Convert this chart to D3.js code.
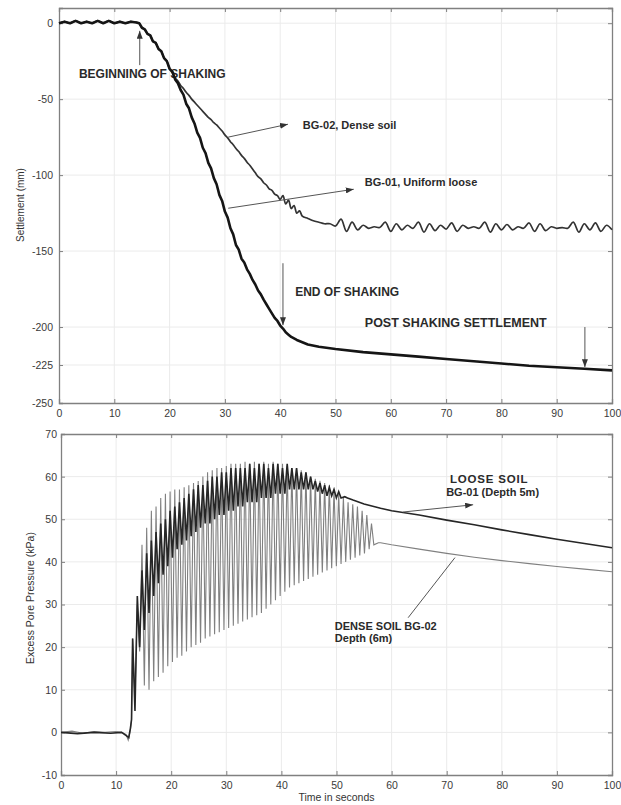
<!DOCTYPE html>
<html><head><meta charset="utf-8">
<script src="https://cdn.jsdelivr.net/npm/d3@7"></script>
<style>
body{margin:0;background:#fff;}
svg{display:block;}
text{font-family:"Liberation Sans",Arial,sans-serif;}
</style>
</head><body>
<svg id="c" width="621" height="805"></svg>
<script>
// ---------- DATA ----------
const xTicks = [0,10,20,30,40,50,60,70,80,90,100];
const topYTicks = [0,-50,-100,-150,-200,-225,-250];
const botYTicks = [-10,0,10,20,30,40,50,60,70];

// Settlement (mm) vs time (s)
const settleLoose = [[0,0],[1,1],[2,0],[3,1.5],[4,0],[5,1],[6,0],[7,1.5],[8,0],[9,1.5],[10,0],[11,1],[12,0],[13,1],[14,0.5],
 [14.5,0],[15,-3],[15.5,-4],[16,-7],[16.5,-8],[17,-12],[17.5,-13],[18,-17],[18.5,-18.5],[19,-23],[19.5,-25],[20,-30],[20.5,-32],
 [21,-37],[21.5,-39.5],[22,-44],[22.5,-47],[23,-53],[23.5,-56],[24,-62],[24.5,-66],[25,-72],[25.5,-75.5],[26,-82],[26.5,-85.5],
 [27,-92],[27.5,-95.5],[28,-102],[28.5,-106],[29,-113],[29.5,-117],[30,-124],[30.5,-128],[31,-135],[31.5,-139],[32,-146],[32.5,-149],
 [33,-155],[33.5,-157.5],[34,-162],[34.5,-165],[35,-169],[35.5,-172],[36,-176],[36.5,-178.5],[37,-182],[37.5,-185],[38,-188],[38.5,-191],
 [39,-194],[39.5,-196],[40,-199],[40.5,-201],[41,-203.5],[41.5,-205],[42,-206.5],[43,-208.5],[44,-210],[45,-211.5],[47,-213],[50,-214.5],
 [55,-216.5],[60,-218],[65,-219.5],[70,-221],[75,-222.5],[80,-224],[85,-225.5],[90,-226.5],[95,-227.5],[100,-228.5]];

const settleDense = [[0,0],[1,1],[2,0],[3,1.5],[4,0],[5,1],[6,0],[7,1.5],[8,0],[9,1.5],[10,0],[11,1],[12,0],[13,1],[14,0.5],
 [14.5,0],[15,-3],[15.5,-4],[16,-7],[16.5,-8],[17,-12],[17.5,-13],[18,-17],[18.5,-18.5],[19,-23],[19.5,-25],[20,-30],[20.5,-32],
 [21,-36],[21.5,-38],[22,-41],[22.5,-43],[23,-45.5],[23.5,-47.5],[24,-50],[24.5,-52],[25,-54],[25.5,-56],[26,-58],[26.5,-60],
 [27,-62],[27.5,-63.5],[28,-65.5],[28.5,-67],[29,-69],[29.5,-71],[30,-73.5],[30.5,-75.5],[31,-78],[31.5,-80],[32,-82.5],[32.5,-84.5],
 [33,-87],[33.5,-89],[34,-91.5],[34.5,-93.5],[35,-96],[35.5,-98.5],[36,-101],[36.5,-102.5],[37,-105],[37.5,-106.5],[38,-109],[38.5,-110],
 [39,-112.5],[39.5,-113.5],[40,-116],[40.5,-113.5],[41,-119],[41.5,-116.5],[42,-122],[42.5,-120],[43,-125],[43.5,-123.5],[44,-127],
 [45,-128.5],[46,-130],[47,-131],[48,-132],[49,-132],[50,-133.5],[51,-129],[52,-137],[53,-131],[54,-136],[55,-133],[56,-135],[57,-134],
 [58,-134.5],[59,-131],[60,-137],[61,-132],[62,-136],[63,-133],[64,-135],[65,-131],[66,-137.5],[67,-132],[68,-136.5],[69,-133],[70,-135.5],
 [71,-131.5],[72,-137],[73,-133],[74,-135],[75,-134],[76,-135],[77,-131],[78,-137.5],[79,-132],[80,-136],[81,-132.5],[82,-136],[83,-134],
 [84,-135],[85,-131.5],[86,-137],[87,-132],[88,-136.5],[89,-134],[90,-135],[91,-134.5],[92,-135],[93,-131],[94,-137.5],[95,-132],
 [96,-136],[97,-131.5],[98,-137],[99,-133],[100,-136]];

// Excess pore pressure (kPa): before shaking, cycle peaks/troughs during shaking, after shaking
const shakeStart = 13.0, halfCycle = 0.425;
const loosePre = [[0,0],[3,-0.3],[6,0],[9,-0.2],[11,0],[11.9,-0.8],[12.3,-1.2],[12.6,1],[12.8,3]];
const loosePeaks = [22,32,38,42,45,47,49,50,52,53,54,55,56,57,58,58,59,60,60,61,61,62,62,62,62,63,62,63,63,62,63,63,62,63,62,62,61,61,60,59,58.5,58,57.5,57,56.5];
const looseTroughs = [5,20,24,28,32,35,37,39,41,43,44,45,46,47,48,49,49,50,51,51,52,52,53,53,54,54,54,55,55,55,56,56,56,57,57,57,57,57,57,56.5,56,55.5,55.5,55,55];
const loosePost = [[51.5,55.3],[52,55],[53,54.5],[55,53.6],[58,52.6],[60,52],[65,51],[70,49.8],[75,48.7],[80,47.5],[85,46.4],[90,45.3],[95,44.3],[100,43.3]];

const densePre = [[0,0],[2,0.3],[4,-0.2],[6,0.2],[8,0],[10,0.2],[11,0],[11.8,-0.5],[12.2,-1.8],[12.6,0.5],[12.8,3]];
const densePeaks = [22,30,44,48,52,53,55,56,56.5,57, 57,57.5,58,58.5,59,60,61,61.5,62,62, 62.5,63,63,63,63.5,63,63.5,63,63.5,63, 63.5,63,63,62.5,62,62,61.5,61,60,59.5, 59,58.5,58,57,56,55,54,53.5,53,52, 51,49];
const denseTroughs = [8,19,11,10,12,13,14,15.5,16.5,17.5, 18,19,20,20.5,21,22,22.5,23,23.5,24, 24.5,25,25.5,26,26.5,27,27.5,28,29,30, 31,32,33,34,34.5,35,35.5,36,36.5,37, 37.5,38,38.5,39,39.5,40,40.5,41,41.5,42, 43,44];
const densePost = [[57.6,44.5],[58,44.5],[60,44],[65,43],[70,42],[75,41.1],[80,40.3],[85,39.6],[90,38.9],[95,38.3],[100,37.7]];

// ---------- BUILD ----------
function cycles(peaks, troughs){
  const pts = [];
  peaks.forEach((p,i)=>{
    const t = shakeStart + i*2*halfCycle;
    pts.push([t,p]); pts.push([t+halfCycle, troughs[i]]);
  });
  return pts;
}
const ppLoose = loosePre.concat(cycles(loosePeaks, looseTroughs), loosePost);
const ppDense = densePre.concat(cycles(densePeaks, denseTroughs), densePost);

const svg = d3.select("#c");
const defs = svg.append("defs");
defs.append("marker").attr("id","ah").attr("viewBox","0 0 8 6").attr("refX",8).attr("refY",3)
  .attr("markerWidth",8).attr("markerHeight",6).attr("markerUnits","userSpaceOnUse").attr("orient","auto")
  .append("path").attr("d","M0,0L8,3L0,6Z").attr("fill","#333");

const fmt = d => String(d);

function panel(cfg){
  const x = d3.scaleLinear().domain([0,100]).range([cfg.left,cfg.right]);
  const y = d3.scaleLinear().domain(cfg.yDomain).range([cfg.bottom,cfg.top]);
  const g = svg.append("g");
  g.append("g").selectAll("line").data(xTicks.slice(1,-1)).join("line")
    .attr("x1",d=>x(d)).attr("x2",d=>x(d)).attr("y1",cfg.top).attr("y2",cfg.bottom)
    .attr("stroke","#ebebeb").attr("stroke-width",1);
  g.append("g").selectAll("line").data(cfg.yTicks.filter(d=>d!==cfg.yDomain[0]&&d!==cfg.yDomain[1])).join("line")
    .attr("x1",cfg.left).attr("x2",cfg.right).attr("y1",d=>y(d)).attr("y2",d=>y(d))
    .attr("stroke","#ebebeb").attr("stroke-width",1);
  const ax = [
    g.append("g").attr("transform",`translate(0,${cfg.bottom})`).call(d3.axisBottom(x).tickValues(xTicks).tickFormat(fmt).tickSize(-4).tickPadding(6.5)),
    g.append("g").attr("transform",`translate(${cfg.left},0)`).call(d3.axisLeft(y).tickValues(cfg.yTicks).tickFormat(fmt).tickSize(-4).tickPadding(cfg.ypad)),
    g.append("g").attr("transform",`translate(0,${cfg.top})`).call(d3.axisTop(x).tickValues(xTicks).tickSize(-4).tickFormat("")),
    g.append("g").attr("transform",`translate(${cfg.right},0)`).call(d3.axisRight(y).tickValues(cfg.yTicks).tickSize(-4).tickFormat(""))
  ];
  ax.forEach(a=>{
    a.select(".domain").attr("stroke","#808080").attr("stroke-width",1.3);
    a.selectAll(".tick line").attr("stroke","#808080");
    a.selectAll(".tick text").attr("fill","#3a3a3a").style("font-size","10.5px").style("font-family","Liberation Sans, Arial, sans-serif");
  });
  return {x,y,g};
}

const P1 = panel({left:59,right:612,top:8,bottom:403,yDomain:[-250,10],yTicks:topYTicks,ypad:6});
const P2 = panel({left:61,right:612,top:434,bottom:775,yDomain:[-10,70],yTicks:botYTicks,ypad:4});

// annotations (data units)
const topNotes = [
  {text:"BEGINNING OF SHAKING", t:3.6, v:-36, size:12},
  {text:"BG-02, Dense soil", t:44.1, v:-69.6, size:11},
  {text:"BG-01, Uniform loose", t:55.3, v:-107, size:11},
  {text:"END OF SHAKING", t:42.7, v:-179.7, size:12},
  {text:"POST SHAKING SETTLEMENT", t:55.3, v:-200, size:12.5}
];
const topArrows = [
  {t1:14.6,v1:-27.6,t2:14.6,v2:-5,head:true},
  {t1:30.6,v1:-75,t2:41.4,v2:-66.5,head:true},
  {t1:30.6,v1:-121.8,t2:53.3,v2:-109.3,head:true},
  {t1:40.5,v1:-158,t2:40.5,v2:-198.8,head:true},
  {t1:95.1,v1:-200,t2:95.1,v2:-226.4,head:true}
];
const botNotes = [
  {text:"LOOSE SOIL", t:70.6, v:58.5, size:11.5, ls:0.8},
  {text:"BG-01 (Depth 5m)", t:69.9, v:55.5, size:11},
  {text:"DENSE SOIL BG-02", t:49.7, v:24.0, size:11},
  {text:"Depth (6m)", t:49.7, v:21.2, size:11}
];
const botArrows = [
  {t1:62.1,v1:51.7,t2:74.8,v2:53.4,head:true},
  {t1:71.5,v1:41,t2:63,v2:26.9,head:false}
];

function notes(P, list){
  P.g.append("g").selectAll("text").data(list).join("text")
    .attr("x",d=>P.x(d.t)).attr("y",d=>P.y(d.v))
    .attr("fill","#2a2a2a").attr("font-weight","bold")
    .style("font-size",d=>d.size+"px").style("letter-spacing",d=>(d.ls||0)+"px")
    .text(d=>d.text);
}
function arrows(P, list){
  P.g.append("g").selectAll("line").data(list).join("line")
    .attr("x1",d=>P.x(d.t1)).attr("y1",d=>P.y(d.v1)).attr("x2",d=>P.x(d.t2)).attr("y2",d=>P.y(d.v2))
    .attr("stroke","#555").attr("stroke-width",1)
    .attr("marker-end",d=>d.head?"url(#ah)":null);
}

notes(P1, topNotes);
notes(P2, botNotes);

const line1 = d3.line().x(d=>P1.x(d[0])).y(d=>P1.y(d[1]));
const line1s = d3.line().curve(d3.curveCatmullRom.alpha(0.5)).x(d=>P1.x(d[0])).y(d=>P1.y(d[1]));
P1.g.append("path").attr("d",line1s(settleDense)).attr("fill","none").attr("stroke","#333").attr("stroke-width",1.7).attr("stroke-linejoin","round");
P1.g.append("path").attr("d",line1(settleLoose)).attr("fill","none").attr("stroke","#151515").attr("stroke-width",2.6).attr("stroke-linejoin","round");

const line2 = d3.line().x(d=>P2.x(d[0])).y(d=>P2.y(d[1]));
P2.g.append("path").attr("d",line2(ppDense)).attr("fill","none").attr("stroke","#808080").attr("stroke-width",1.1);
P2.g.append("path").attr("d",line2(ppLoose)).attr("fill","none").attr("stroke","#262626").attr("stroke-width",1.6);

arrows(P1, topArrows);
arrows(P2, botArrows);

// axis titles
svg.append("text").attr("transform","translate(20,205) rotate(-90)").attr("text-anchor","middle").attr("dy","0.35em")
  .attr("fill","#333").style("font-size","10px").text("Settlement (mm)");
svg.append("text").attr("transform","translate(30,598) rotate(-90)").attr("text-anchor","middle").attr("dy","0.35em")
  .attr("fill","#333").style("font-size","10.5px").text("Excess Pore Pressure (kPa)");
svg.append("text").attr("x",P2.x(50)).attr("y",801).attr("text-anchor","middle")
  .attr("fill","#333").style("font-size","10.5px").text("Time in seconds");
</script>
</body></html>
